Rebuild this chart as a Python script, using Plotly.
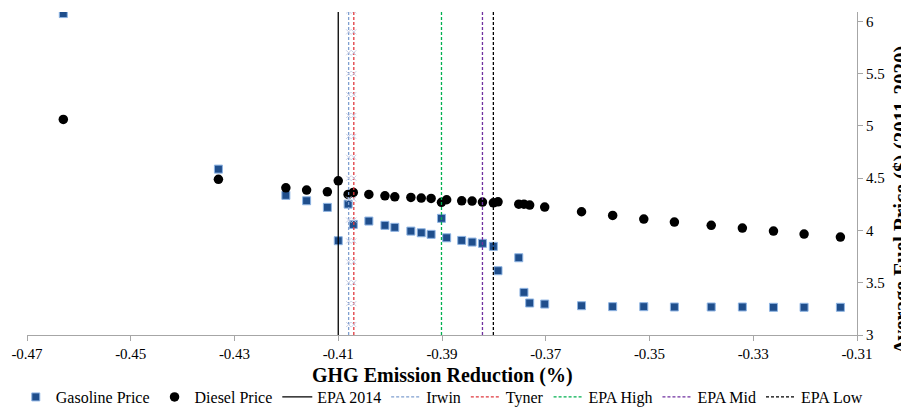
import plotly.graph_objects as go

# ---- data ----
emission_reduction = [-0.4630, -0.4331, -0.4201, -0.4161, -0.4121, -0.4100, -0.4081, -0.4071,
                      -0.4041, -0.4010, -0.3991, -0.3960, -0.3940, -0.3921, -0.3901, -0.3891,
                      -0.3862, -0.3842, -0.3822, -0.3801, -0.3792, -0.3752, -0.3742, -0.3731,
                      -0.3702, -0.3631, -0.3571, -0.3511, -0.3452, -0.3381, -0.3321, -0.3261,
                      -0.3202, -0.3132]
gasoline_price = [6.075, 4.587, 4.336, 4.284, 4.221, 3.902, 4.252, 4.058,
                  4.090, 4.049, 4.030, 3.994, 3.978, 3.963, 4.116, 3.930,
                  3.905, 3.889, 3.877, 3.848, 3.615, 3.739, 3.408, 3.306,
                  3.296, 3.280, 3.271, 3.271, 3.268, 3.268, 3.268, 3.265,
                  3.265, 3.265]
diesel_price = [5.062, 4.489, 4.408, 4.386, 4.370, 4.475, 4.345, 4.364,
                4.345, 4.332, 4.322, 4.316, 4.310, 4.307, 4.269, 4.294,
                4.284, 4.281, 4.272, 4.265, 4.274, 4.252, 4.252, 4.243,
                4.224, 4.179, 4.144, 4.109, 4.080, 4.049, 4.023, 3.994,
                3.966, 3.937]

ref_names = ["EPA 2014", "Irwin", "Tyner", "EPA High", "EPA Mid", "EPA Low"]
ref_x = [-0.4100, -0.4080, -0.4070, -0.3901, -0.3822, -0.3801]
ref_line_y = [3.0, 6.1]
ref_marker_y = [3.1, 3.3, 3.5, 3.7, 3.9, 4.1, 4.3, 4.5, 4.7, 4.9, 5.1, 5.3, 5.5, 5.7, 5.9, 6.1]

x_tick_vals = [-0.47, -0.45, -0.43, -0.41, -0.39, -0.37, -0.35, -0.33, -0.31]
x_tick_text = ["-0.47", "-0.45", "-0.43", "-0.41", "-0.39", "-0.37", "-0.35", "-0.33", "-0.31"]
y_tick_vals = [3, 3.5, 4, 4.5, 5, 5.5, 6]
y_tick_text = ["3", "3.5", "4", "4.5", "5", "5.5", "6"]

# ---- styles ----
ref_styles = {
    "EPA 2014": dict(color="#000000", dash="solid", width=1.3),
    "Irwin": dict(color="#7F9FCF", dash="3px,2px", width=1.3),
    "Tyner": dict(color="#E0393E", dash="3px,2px", width=1.3),
    "EPA High": dict(color="#00B050", dash="3px,2px", width=1.3),
    "EPA Mid": dict(color="#7030A0", dash="3px,2px", width=1.3),
    "EPA Low": dict(color="#000000", dash="3px,2px", width=1.3),
}
FONT = "'Liberation Serif', 'Times New Roman', serif"

fig = go.Figure()

fig.add_trace(go.Scatter(
    x=emission_reduction, y=gasoline_price, mode="markers", name="Gasoline Price",
    marker=dict(symbol="square", size=8, color="#1F4E8C", line=dict(color="#8EB4E3", width=1)),
))
fig.add_trace(go.Scatter(
    x=emission_reduction, y=diesel_price, mode="markers", name="Diesel Price",
    marker=dict(symbol="circle", size=9.5, color="#000000"),
))

for name, xv in zip(ref_names, ref_x):
    st = ref_styles[name]
    fig.add_trace(go.Scatter(
        x=[xv] * len(ref_line_y), y=ref_line_y, mode="lines", name=name,
        line=dict(color=st["color"], dash=st["dash"], width=st["width"]),
    ))
    if name in ("Irwin", "Tyner"):
        fig.add_trace(go.Scatter(
            x=[xv] * len(ref_marker_y), y=ref_marker_y, mode="markers", showlegend=False,
            hoverinfo="skip",
            marker=dict(symbol="x-thin", size=5, line=dict(color="#C9CFE6", width=1)),
        ))

# page body has an 8px margin, so the figure is placed at (8, 8) in the window
fig.update_layout(
    width=901, height=402,
    margin=dict(l=19, r=52, t=4, b=75, autoexpand=False),
    paper_bgcolor="white", plot_bgcolor="white",
    font=dict(family=FONT, size=15, color="#000000"),
    showlegend=True,
    legend=dict(orientation="h", x=1.013, xanchor="right", y=-0.192, yanchor="middle",
                font=dict(family=FONT, size=16, color="#000000"),
                itemwidth=30, tracegroupgap=0, bgcolor="rgba(0,0,0,0)"),
    xaxis=dict(range=[-0.47, -0.31], tickvals=x_tick_vals, ticktext=x_tick_text,
               automargin=False,
               showgrid=False, zeroline=False, showline=True, linecolor="#A6A6A6", linewidth=1,
               ticks="outside", ticklen=5, tickcolor="#A6A6A6",
               tickfont=dict(family=FONT, size=15, color="#000000")),
    yaxis=dict(range=[3, 6.09], side="right", tickvals=y_tick_vals, ticktext=y_tick_text,
               automargin=False,
               showgrid=False, zeroline=False, showline=True, linecolor="#A6A6A6", linewidth=1,
               ticks="outside", ticklen=5, tickcolor="#A6A6A6",
               tickfont=dict(family=FONT, size=15, color="#000000")),
    annotations=[
        dict(text="<b>GHG Emission Reduction (%)</b>", xref="paper", yref="paper",
             x=0.5, y=-0.124, xanchor="center", yanchor="middle", showarrow=False,
             font=dict(family=FONT, size=20, color="#000000")),
        dict(text="<b>Average Fuel Price ($) (2011-2020)</b>", xref="paper", yref="paper",
             x=1.054, y=0.42, xanchor="center", yanchor="middle", showarrow=False, textangle=-90,
             font=dict(family=FONT, size=21, color="#000000")),
    ],
)

fig.write_html("out.html")
